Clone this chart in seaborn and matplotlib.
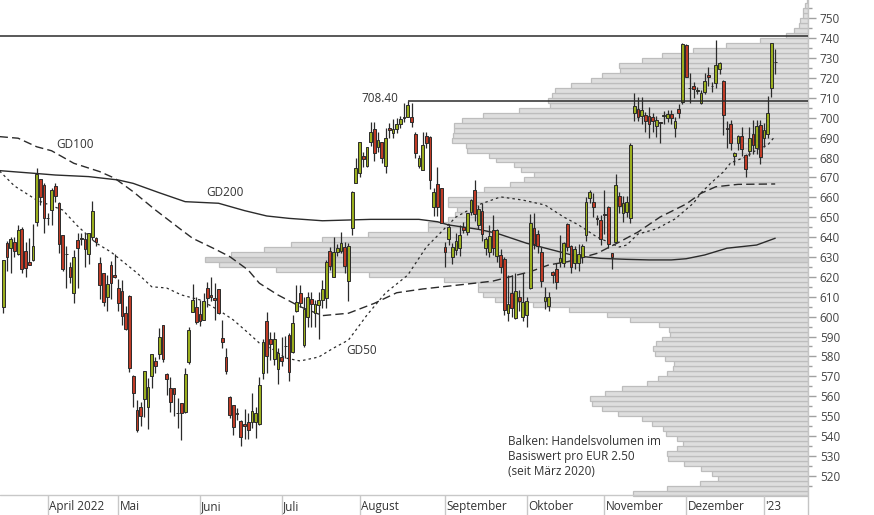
import numpy as np
import pandas as pd
import matplotlib
matplotlib.use("Agg")
import matplotlib.pyplot as plt
import seaborn as sns

sns.set_theme(style="white")
plt.rcParams["font.family"] = ["Open Sans", "DejaVu Sans"]

# Xetra trading days 16.03.2022 - 05.01.2023
holidays = ["2022-04-15", "2022-04-18", "2022-12-26"]
dates = pd.bdate_range("2022-03-16", "2023-01-05", freq="C", holidays=holidays)

open_ = [605.0, 636.8, 634.7, 637.4, 631.3, 644.1, 633.0, 627.3, 628.5, 647.4,
         669.0, 666.2, 649.5, 653.6, 665.7, 657.0, 640.9, 631.5, 624.8, 611.7,
         638.5, 639.4, 639.2, 631.3, 639.9, 639.4, 626.8, 621.8, 610.0, 626.0,
         620.9, 614.2, 612.9, 601.7, 610.4, 570.1, 553.0, 554.7, 558.4, 554.7,
         570.1, 577.7, 581.0, 595.6, 571.0, 563.9, 563.9, 551.4, 556.4, 552.2,
         577.0, 602.1, 605.0, 601.1, 598.5, 614.2, 611.0, 609.5, 613.7, 589.4,
         579.5, 559.7, 555.4, 551.3, 547.7, 546.0, 546.8, 547.2, 547.2, 546.0,
         571.8, 597.8, 588.6, 578.5, 573.7, 579.5, 585.2, 590.8, 582.0, 603.0,
         611.7, 585.7, 600.0, 608.7, 601.6, 605.8, 608.3, 609.2, 633.1, 620.1,
         632.7, 633.2, 634.8, 618.1, 644.4, 667.3, 672.0, 680.8, 675.7, 688.0,
         694.2, 685.1, 687.6, 675.7, 694.7, 692.2, 694.5, 697.0, 700.2, 700.2,
         700.5, 691.8, 675.7, 673.7, 690.8, 690.5, 654.9, 666.7, 664.5, 634.8,
         638.9, 629.8, 633.5, 634.3, 645.2, 642.4, 652.8, 663.7, 646.1, 653.3,
         634.3, 632.6, 643.5, 630.5, 631.0, 629.0, 601.6, 611.7, 599.1, 609.7,
         600.0, 600.8, 614.2, 644.4, 641.5, 632.3, 608.0, 605.3, 622.6, 623.8,
         627.6, 627.1, 646.6, 635.5, 626.8, 626.8, 630.1, 641.0, 659.5, 657.8,
         649.4, 648.6, 651.4, 655.3, 632.1, 637.7, 660.6, 651.9, 652.8, 649.4,
         702.5, 704.2, 700.9, 701.4, 700.9, 700.2, 695.8, 697.7, 700.9, 700.0,
         701.9, 694.7, 704.2, 708.1, 736.6, 714.8, 716.0, 713.6, 707.6, 713.1,
         721.5, 715.8, 717.6, 724.3, 718.6, 694.7, 696.8, 680.8, 687.1, 690.8,
         681.2, 683.4, 691.8, 684.6, 696.3, 689.6, 691.8, 714.8, 727.9]

high = [628.5, 638.2, 639.9, 639.9, 646.1, 645.2, 637.7, 639.4, 646.6, 674.6,
        669.2, 667.0, 652.0, 664.5, 667.0, 657.5, 641.2, 635.5, 627.6, 633.5,
        641.9, 642.0, 641.9, 642.2, 658.1, 639.9, 629.8, 622.1, 620.9, 628.1,
        631.5, 618.9, 618.4, 605.3, 610.9, 570.6, 558.1, 557.2, 572.8, 569.0,
        581.4, 579.9, 594.4, 595.8, 571.8, 569.8, 564.3, 558.9, 556.7, 574.3,
        595.0, 616.4, 609.7, 608.4, 612.0, 617.2, 620.1, 616.7, 614.0, 598.3,
        584.0, 560.2, 555.6, 554.0, 548.0, 553.4, 551.4, 561.8, 554.7, 569.8,
        588.6, 602.5, 592.4, 592.4, 584.0, 589.9, 590.3, 591.9, 600.8, 615.9,
        615.9, 610.0, 612.5, 612.5, 608.3, 612.5, 618.4, 628.4, 635.2, 640.2,
        636.5, 642.7, 637.7, 637.2, 663.3, 679.6, 688.0, 682.9, 685.5, 698.0,
        698.0, 693.0, 688.0, 694.7, 697.5, 699.4, 699.7, 701.0, 707.2, 708.4,
        707.5, 693.0, 681.3, 693.0, 693.0, 690.8, 664.5, 675.1, 664.8, 637.7,
        646.6, 637.2, 641.9, 646.1, 647.7, 652.3, 659.0, 668.7, 656.1, 657.3,
        640.2, 646.1, 651.1, 643.9, 633.8, 630.1, 620.9, 620.9, 622.1, 613.4,
        622.1, 610.0, 651.6, 651.9, 643.5, 635.2, 615.0, 612.5, 623.0, 626.8,
        641.0, 637.7, 646.9, 636.0, 635.5, 636.5, 636.5, 660.3, 663.7, 662.0,
        651.0, 651.1, 663.7, 655.6, 632.1, 671.7, 662.8, 660.6, 660.6, 687.1,
        712.6, 710.3, 710.3, 703.0, 705.6, 702.5, 700.9, 698.0, 703.5, 703.9,
        703.9, 700.5, 706.9, 737.4, 737.1, 722.3, 718.1, 715.6, 713.9, 722.3,
        725.7, 718.0, 739.1, 728.2, 719.0, 698.5, 698.9, 682.9, 691.3, 695.2,
        681.8, 695.2, 698.9, 698.9, 698.9, 697.2, 710.9, 737.4, 734.4]

low = [602.0, 622.9, 621.8, 629.8, 631.0, 621.8, 619.7, 626.1, 628.1, 645.7,
       656.1, 642.2, 646.0, 645.9, 657.5, 632.2, 623.1, 614.4, 617.1, 607.0,
       614.6, 636.0, 625.1, 626.5, 638.5, 635.5, 608.7, 605.5, 603.0, 609.0,
       619.2, 603.0, 595.8, 593.3, 572.3, 554.7, 542.2, 545.2, 549.7, 543.3,
       564.3, 571.8, 578.7, 577.0, 560.6, 552.2, 550.0, 543.8, 538.0, 551.4,
       576.2, 602.1, 596.1, 595.3, 598.2, 605.0, 608.0, 598.3, 601.3, 584.0,
       571.3, 548.9, 540.5, 548.0, 535.1, 538.3, 538.5, 543.8, 538.8, 545.5,
       568.5, 571.5, 578.2, 575.7, 565.9, 575.0, 579.0, 567.6, 581.5, 602.5,
       605.0, 584.9, 594.9, 595.0, 595.0, 588.6, 604.2, 604.2, 623.4, 619.7,
       630.5, 632.0, 622.0, 608.0, 641.0, 667.0, 670.4, 675.0, 675.4, 686.0,
       678.2, 683.0, 677.0, 672.4, 690.0, 690.0, 692.5, 695.0, 698.0, 700.2,
       695.5, 680.0, 674.6, 673.7, 685.0, 664.0, 650.6, 650.6, 646.9, 625.1,
       636.0, 626.5, 631.0, 630.5, 642.0, 641.0, 651.0, 648.0, 644.0, 638.0,
       631.0, 630.0, 631.0, 627.6, 622.0, 601.0, 598.0, 600.0, 598.6, 603.0,
       598.0, 594.6, 613.7, 634.0, 632.0, 615.0, 604.0, 603.0, 617.0, 614.0,
       625.0, 625.0, 633.0, 622.0, 624.0, 623.0, 627.0, 638.0, 657.0, 650.0,
       646.0, 636.0, 641.5, 634.3, 623.8, 637.3, 652.0, 647.7, 650.0, 647.0,
       698.5, 698.5, 697.0, 693.0, 689.6, 693.0, 690.5, 687.1, 697.0, 698.0,
       697.0, 690.5, 699.7, 706.9, 720.3, 707.2, 710.0, 712.0, 707.0, 712.0,
       716.0, 713.0, 714.8, 722.0, 691.3, 684.6, 684.0, 676.2, 683.8, 681.0,
       670.0, 681.0, 682.0, 682.0, 676.7, 685.1, 690.0, 710.6, 722.0]

close = [628.5, 629.8, 638.9, 633.2, 643.6, 624.1, 624.6, 626.1, 635.5, 671.5,
         660.3, 649.4, 649.8, 663.7, 660.8, 636.3, 624.1, 631.3, 619.8, 630.1,
         634.3, 639.0, 634.0, 641.9, 653.1, 637.7, 615.7, 607.2, 616.4, 617.1,
         619.7, 606.7, 600.5, 593.6, 574.0, 561.8, 543.0, 550.0, 572.7, 564.8,
         581.2, 575.2, 589.6, 578.5, 568.5, 556.9, 560.9, 551.6, 551.4, 571.1,
         593.3, 608.4, 597.3, 597.8, 607.7, 609.2, 610.0, 608.3, 601.6, 587.4,
         572.8, 550.5, 544.7, 551.0, 539.3, 545.2, 543.0, 552.7, 551.4, 565.6,
         587.1, 580.2, 586.2, 588.6, 581.5, 577.9, 585.0, 572.3, 597.0, 607.5,
         607.0, 603.7, 610.0, 606.3, 606.3, 608.3, 613.7, 627.6, 625.6, 632.6,
         634.3, 636.8, 625.4, 635.5, 662.5, 674.6, 687.6, 679.1, 685.1, 692.7,
         682.1, 688.8, 679.6, 689.6, 693.9, 694.2, 697.0, 699.4, 700.0, 706.4,
         698.0, 682.4, 679.6, 686.3, 687.1, 668.7, 662.5, 655.3, 647.2, 632.6,
         644.9, 635.2, 638.0, 641.0, 643.5, 651.9, 658.6, 651.6, 653.9, 641.5,
         638.9, 640.5, 634.3, 643.5, 624.8, 603.3, 606.3, 604.2, 612.9, 608.0,
         607.5, 608.0, 646.9, 636.5, 635.5, 618.1, 610.0, 610.0, 620.9, 617.6,
         629.6, 637.2, 635.2, 625.1, 633.8, 631.5, 635.5, 657.8, 662.8, 655.3,
         649.2, 638.9, 651.0, 636.5, 630.1, 666.2, 655.6, 657.3, 657.8, 686.3,
         705.9, 700.5, 703.9, 698.5, 696.8, 698.5, 698.9, 697.2, 701.1, 701.9,
         700.0, 698.5, 702.2, 737.1, 720.7, 715.0, 714.3, 713.8, 712.6, 718.6,
         720.3, 716.0, 726.5, 727.4, 701.4, 694.2, 687.1, 682.4, 690.8, 684.1,
         674.0, 689.6, 686.3, 696.0, 680.1, 693.8, 702.2, 737.4, 728.1]

# moving averages, read at trading-day numbers (0 = 16.03.2022)
gd50_day = [-1, 3, 9, 16, 20, 25, 29, 32, 36, 40, 44, 48, 53, 58, 62, 66, 69, 73, 76, 80,
            85, 89, 93, 95, 98, 103, 109, 114, 122, 128, 134, 140, 146, 151, 155, 160,
            166, 168, 171, 176, 181, 186, 188, 191, 194, 196, 200, 203, 206, 208]
gd50_val = [673.2, 665.7, 658.6, 653.6, 645.6, 637.0, 632.5, 628.0, 622.0, 615.0,
            614.4, 610.9, 608.4, 603.3, 598.3, 591.8, 586.7, 583.2, 579.2, 577.7,
            579.7, 584.2, 588.2, 593.2, 600.8, 611.9, 620.9, 635.0, 650.1, 656.2,
            660.2, 658.6, 656.1, 650.1, 646.1, 640.0, 635.0, 636.0, 641.5, 644.1,
            649.1, 657.1, 662.2, 667.7, 672.7, 677.3, 680.3, 683.8, 686.3, 690.8]

gd100_day = [-1, 4, 9, 13, 19, 26, 30, 35, 41, 48, 51, 57, 61, 66, 69, 74, 80, 86,
             93, 100, 106, 113, 128, 132, 142, 147, 152, 160, 166, 171, 177, 184,
             188, 192, 198, 208]
gd100_val = [690.5, 689.7, 685.4, 683.4, 677.1, 672.9, 669.6, 662.8, 653.6, 643.6,
             639.4, 634.0, 630.2, 623.4, 616.8, 610.9, 605.0, 600.5, 601.7, 606.7,
             612.0, 613.9, 617.0, 617.9, 622.6, 626.0, 627.6, 631.8, 637.5, 642.5,
             650.1, 656.6, 662.0, 665.3, 666.5, 666.7]

gd200_day = [-1, 8, 14, 23, 31, 35, 42, 49, 58, 65, 71, 77, 86, 99, 112, 117, 120,
             128, 133, 141, 148, 154, 161, 168, 174, 180, 184, 189, 195, 203, 208]
gd200_val = [673.4, 672.1, 671.2, 670.4, 668.7, 667.0, 662.3, 657.8, 657.0, 653.3,
             650.6, 649.4, 648.2, 648.9, 648.9, 647.7, 646.1, 643.9, 641.9, 636.9,
             633.5, 630.6, 629.3, 628.8, 628.5, 628.5, 629.1, 631.0, 634.4, 636.0,
             639.4]

# volume profile (relative, max = 100), 2.50 EUR bins from 510
vol_step = 2.5
vol = [29.0, 23.4, 17.9, 14.9, 15.9, 17.7, 20.6, 23.2, 23.4, 21.7,
       20.7, 21.7, 23.5, 24.0, 25.9, 27.5, 31.5, 34.2, 35.8, 36.2,
       33.7, 30.8, 26.7, 24.9, 23.4, 22.4, 22.2, 23.7, 25.4, 25.7,
       25.2, 24.2, 22.9, 23.1, 24.7, 29.5, 33.3, 39.6, 45.6, 51.9,
       53.9, 54.7, 54.7, 60.4, 72.8, 88.2, 97.7, 100.0, 95.7, 90.2,
       85.7, 80.6, 73.0, 63.0, 63.0, 59.7, 58.5, 58.2, 59.7, 59.7,
       55.4, 53.7, 49.4, 47.1, 45.4, 47.6, 48.8, 51.7, 52.9, 56.6,
       56.7, 59.0, 58.9, 58.7, 58.7, 57.4, 53.9, 47.9, 42.8, 43.1,
       42.5, 42.0, 39.3, 36.0, 34.2, 31.2, 31.3, 27.5, 24.2, 19.1,
       13.6, 8.0, 3.6, 2.3, 1.5, 1.3, 0.8, 0.8, 0.5, 0.2]
vol_low = 510.0

ath = 741.1
month_labels = ["April 2022", "Mai", "Juni", "Juli", "August", "September",
                "Oktober", "November", "Dezember", "'23"]

df = pd.DataFrame({"date": dates[:len(open_)], "open": open_, "high": high,
                   "low": low, "close": close})
df["pos"] = np.arange(len(df))
df["up"] = df["close"] >= df["open"]

txt = "#333333"
dark = "#2b2b2b"
green = "#9aae1e"
red = "#bf3b26"
fs = 8.5

fig = plt.figure(figsize=(8.74, 5.15), dpi=100)
ax = fig.add_axes([0, 0, 808 / 874, 1])
x_min, x_max = -0.89, 216.84
y_min, y_max = 500.25, 759.2
strip_top = 510.3
ax.set_xlim(x_min, x_max)
ax.set_ylim(y_min, y_max)

# volume profile bars from the right edge
vol = np.array(vol)
bins = vol_low + vol_step * np.arange(len(vol))
scale = 0.746 * (x_max - x_min) / vol.max()
bar_cols = ["#d0d0d0" if v == vol.max() else "#dedede" for v in vol]
ax.barh(bins + vol_step / 2, -vol * scale, left=x_max, height=vol_step,
        color=bar_cols, edgecolor="#bdbdbd", linewidth=0.9, zorder=1)

# moving averages
sns.lineplot(x=gd200_day, y=gd200_val, ax=ax, color=dark, lw=1.0, zorder=3)
sns.lineplot(x=gd100_day, y=gd100_val, ax=ax, color=dark, lw=1.0, zorder=3)
ax.lines[-1].set_dashes([6, 3])
sns.lineplot(x=gd50_day, y=gd50_val, ax=ax, color=dark, lw=0.9, zorder=3)
ax.lines[-1].set_dashes([2, 2.5])

# candles
ax.vlines(df["pos"], df["low"], df["high"], color=dark, lw=0.9, zorder=4)
body_lo = np.minimum(df["open"], df["close"])
body_h = np.maximum((df["close"] - df["open"]).abs(), 0.3)
ax.bar(df["pos"], body_h, bottom=body_lo, width=0.74,
       color=np.where(df["up"], green, red), edgecolor=dark, linewidth=0.7, zorder=5)

# resistance lines
ax.hlines(ath, x_min, x_max, color=dark, lw=1.1, zorder=6)
summer = df[(df["date"] >= "2022-07-01") & (df["date"] <= "2022-09-30")]
peak = summer.loc[summer["high"].idxmax()]
ax.hlines(peak["high"], peak["pos"], x_max, color=dark, lw=1.1, zorder=6)
ax.annotate(f"{peak['high']:.2f}", (peak["pos"], peak["high"]), xytext=(-6.5, 1.6),
            textcoords="offset points", ha="right", va="center", fontsize=fs, color=txt)

# labels
ax.text(14.4, 686.3, "GD100", fontsize=fs, color=txt, va="center")
ax.text(54.8, 662.3, "GD200", fontsize=fs, color=txt, va="center")
ax.text(92.5, 583.0, "GD50", fontsize=fs, color=txt, va="center")
ax.text(135.9, 529.6, "Balken: Handelsvolumen im\nBasiswert pro EUR 2.50\n(seit März 2020)",
        fontsize=fs, color=txt, va="center", ha="left", linespacing=1.18)

# date strip
ax.axhline(strip_top, color="#c8c8c8", lw=1, zorder=7)
month_first = df.groupby(df["date"].dt.to_period("M"))["pos"].first().iloc[1:]
ax.vlines(month_first, y_min, strip_top, color="#c8c8c8", lw=1, zorder=7)
for p, lab in zip(month_first, month_labels):
    ax.text(p + 0.35, 504.4, lab, fontsize=fs, color=txt, va="center", ha="left")

# axes
for s in ["top", "left", "bottom"]:
    ax.spines[s].set_visible(False)
ax.spines["right"].set_color("#c4c4c4")
ax.spines["right"].set_linewidth(1.0)
ax.set_xticks([])
ax.yaxis.tick_right()
ax.set_yticks(np.arange(520, 751, 10))
ax.set_yticks(np.arange(515, 756, 10), minor=True)
ax.tick_params(axis="y", which="both", right=True, left=False, labelright=True,
               labelleft=False, direction="out", color="#a0a0a0", width=1)
ax.tick_params(axis="y", which="major", length=6, labelsize=fs, labelcolor="#444444", pad=2.5)
ax.tick_params(axis="y", which="minor", length=3)
ax.set_xlabel("")
ax.set_ylabel("")
ax.grid(False)

fig.savefig("out.png", dpi=100)
